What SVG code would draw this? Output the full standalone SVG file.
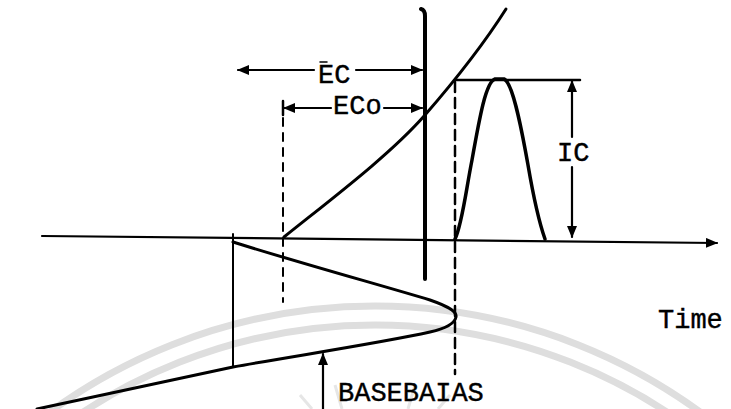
<svg xmlns="http://www.w3.org/2000/svg" width="731" height="409" viewBox="0 0 731 409">
<defs>
<marker id="ah" viewBox="0 0 12 10" refX="11" refY="5" markerWidth="12" markerHeight="10" markerUnits="userSpaceOnUse" orient="auto-start-reverse">
<path d="M0,0 L12,5 L0,10 Z" fill="#000"/>
</marker>
<style>
.ln{fill:none;stroke:#000;stroke-linecap:round;stroke-linejoin:round}
.t{font-family:"Liberation Mono","DejaVu Sans Mono",monospace;font-size:27px;fill:#000;stroke:#000;stroke-width:0.4}
.wm{fill:none;stroke:#dedede;stroke-width:7}
.ray{stroke:#e6e6e6;stroke-width:3}
</style>
</defs>
<rect width="731" height="409" fill="#fff"/>
<g id="watermark">
<circle class="wm" cx="375" cy="857" r="551"/>
<circle class="wm" cx="375" cy="857" r="532"/>
<g class="ray">
<line x1="300" y1="395" x2="312" y2="409"/>
<line x1="335" y1="385" x2="342" y2="409"/>
<line x1="415" y1="385" x2="408" y2="409"/>
<line x1="450" y1="395" x2="438" y2="409"/>
</g>
</g>
<g id="axis">
<line class="ln" x1="42" y1="236" x2="717" y2="243" stroke-width="2.2" marker-end="url(#ah)"/>
</g>
<g id="vertical-line">
<path class="ln" d="M421,9 Q425,10 425,16 L425,279" stroke-width="4"/>
</g>
<g id="collector-voltage-curve">
<path class="ln" d="M284,237 C330,200 390,155 425,115 C445,92 480,50 506,9" stroke-width="3"/>
</g>
<g id="pulse">
<path class="ln" d="M455,239 C462,225 466,190 472,160 C480,115 486,82 495,79 L504,79 C512,82 520,120 528,165 C534,200 540,225 545,239" stroke-width="3.5"/>
<line class="ln" x1="455" y1="80" x2="580" y2="80" stroke-width="2.5"/>
</g>
<g id="base-bias-curve">
<line class="ln" x1="233" y1="234" x2="233" y2="367" stroke-width="2"/>
<path class="ln" d="M233,242 C300,263 380,285 430,300 C450,307 457,312 456,317 C455,322 448,328 430,332 C380,343 300,355 233,367 L37,409" stroke-width="3"/>
</g>
<g id="dashed-lines">
<line class="ln" x1="283" y1="118" x2="283" y2="302" stroke-width="2" stroke-dasharray="8 7" stroke-linecap="butt"/>
<line class="ln" x1="455" y1="82" x2="455" y2="374" stroke-width="2.5" stroke-dasharray="10 6" stroke-linecap="butt"/>
</g>
<g id="EC">
<line class="ln" x1="238" y1="70" x2="314" y2="70" stroke-width="2.2" marker-start="url(#ah)"/>
<line class="ln" x1="356" y1="70" x2="422" y2="70" stroke-width="2.2" marker-end="url(#ah)"/>
<line class="ln" x1="320" y1="62" x2="327" y2="62" stroke-width="1.5"/>
<text class="t" x="318" y="83">EC</text>
</g>
<g id="ECo">
<line class="ln" x1="283" y1="101" x2="283" y2="115" stroke-width="2.5"/>
<line class="ln" x1="284" y1="108" x2="331" y2="108" stroke-width="2.2" marker-start="url(#ah)"/>
<line class="ln" x1="384" y1="108" x2="422" y2="108" stroke-width="2.2" marker-end="url(#ah)"/>
<text class="t" x="333" y="114">ECo</text>
</g>
<g id="IC">
<line class="ln" x1="572" y1="137" x2="572" y2="81" stroke-width="2.2" marker-end="url(#ah)"/>
<line class="ln" x1="572" y1="167" x2="572" y2="237" stroke-width="2.2" marker-end="url(#ah)"/>
<text class="t" x="557" y="161">IC</text>
</g>
<g id="time-label">
<text class="t" x="658" y="328">Time</text>
</g>
<g id="basebias">
<line class="ln" x1="323" y1="409" x2="323" y2="354" stroke-width="2.2" marker-end="url(#ah)"/>
<text class="t" x="338" y="401">BASEBAIAS</text>
</g>
</svg>
